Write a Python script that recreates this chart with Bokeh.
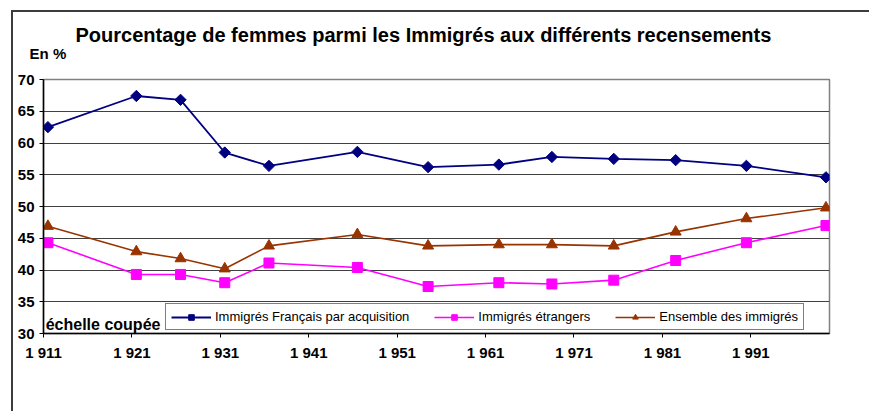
import numpy as np
from bokeh.plotting import figure
from bokeh.models import Legend, LegendItem, Label, FixedTicker, Range1d, LinearAxis
from bokeh.embed import file_html
from bokeh.resources import INLINE

# ---- data ----
years = [1911, 1921, 1926, 1931, 1936, 1946, 1954, 1962, 1968, 1975, 1982, 1990, 1999]
francais = [62.5, 67.4, 66.8, 58.5, 56.4, 58.6, 56.2, 56.6, 57.8, 57.5, 57.3, 56.4, 54.6]
etrangers = [44.3, 39.3, 39.3, 38.0, 41.1, 40.4, 37.4, 38.0, 37.8, 38.4, 41.5, 44.3, 47.0]
ensemble = [46.9, 42.9, 41.8, 40.2, 43.8, 45.6, 43.8, 44.0, 44.0, 43.8, 46.0, 48.1, 49.8]
x_tick_pos = [1910.5, 1920.5, 1930.5, 1940.5, 1950.5, 1960.5, 1970.5, 1980.5, 1990.5]
x_tick_labels = ["1 911", "1 921", "1 931", "1 941", "1 951", "1 961", "1 971", "1 981", "1 991"]
y_ticks = [30, 35, 40, 45, 50, 55, 60, 65, 70]
series_names = ["Immigrés Français par acquisition", "Immigrés étrangers", "Ensemble des immigrés"]

FONT = "Liberation Sans"

p = figure(x_range=Range1d(1910.5, 1999.4), y_range=Range1d(30, 70),
           output_backend="svg", toolbar_location=None,
           min_border_left=30, min_border_right=40,
           min_border_top=67, min_border_bottom=78)
p.frame_width = 786
p.frame_height = 254
p.styles = {"margin-left": "11px", "margin-top": "10px",
            "border-left": "2px solid #3c3c3c", "border-top": "2px solid #3c3c3c"}

p.title.text = "Pourcentage de femmes parmi les Immigrés aux différents recensements"
p.title.text_font = FONT
p.title.text_font_style = "bold"
p.title.text_font_size = "20px"
p.title.text_color = "black"
p.title.align = "left"
p.title.offset = 32
p.title.standoff = -8

p.outline_line_color = "#808080"
p.outline_line_width = 1.5

# axes
p.xaxis.ticker = FixedTicker(ticks=x_tick_pos)
p.xaxis.major_label_overrides = {t: l for t, l in zip(x_tick_pos, x_tick_labels)}
p.yaxis.ticker = FixedTicker(ticks=y_ticks)
for ax in (p.xaxis, p.yaxis):
    ax.major_tick_in = 0
    ax.major_tick_out = 4
    ax.minor_tick_line_color = None
    ax.axis_line_color = "black"
    ax.axis_line_width = 1.5
    ax.major_tick_line_color = "black"
    ax.major_label_text_font = FONT
    ax.major_label_text_font_style = "bold"
    ax.major_label_text_font_size = "15px"
    ax.major_label_text_color = "black"
p.xaxis.major_label_standoff = 6
p.yaxis.major_label_standoff = 5

# unit caption above the value axis ("En %")
unit_axis = LinearAxis(ticker=FixedTicker(ticks=[1911]),
                       major_label_overrides={1911: "En %"},
                       axis_line_color=None, major_tick_line_color=None,
                       minor_tick_line_color=None, major_tick_out=0, major_tick_in=0,
                       major_label_standoff=18,
                       major_label_text_font=FONT, major_label_text_font_style="bold",
                       major_label_text_font_size="15px", major_label_text_color="black")
p.add_layout(unit_axis, "above")

p.xgrid.visible = False
p.ygrid.grid_line_color = "#404040"
p.ygrid.grid_line_width = 1

# series
r1 = p.line(years, francais, color="#000080", line_width=1.8)
m1 = p.scatter(years, francais, marker="square", angle=np.pi / 4, size=8,
               fill_color="#000080", line_color="#000080")
r2 = p.line(years, etrangers, color="#FF00FF", line_width=1.6)
m2 = p.scatter(years, etrangers, marker="square", size=10,
               fill_color="#FF00FF", line_color="#FF00FF")
r3 = p.line(years, ensemble, color="#993300", line_width=1.6)
m3 = p.scatter(years, ensemble, marker="triangle", size=11,
               fill_color="#993300", line_color="#993300")

legend = Legend(items=[LegendItem(label=series_names[0], renderers=[r1, m1]),
                       LegendItem(label=series_names[1], renderers=[r2, m2]),
                       LegendItem(label=series_names[2], renderers=[r3, m3])],
                orientation="horizontal", location=(122, 3), margin=0,
                border_line_color="black", border_line_width=1,
                background_fill_color="white", background_fill_alpha=1,
                glyph_width=40, glyph_height=14, label_height=14,
                label_standoff=4, spacing=25, padding=5,
                label_text_font=FONT, label_text_font_size="13px",
                label_text_color="black")
p.add_layout(legend)

p.add_layout(Label(x=1910.75, y=31.37, text="échelle coupée", text_align="left",
                   text_baseline="alphabetic",
                   text_font=FONT, text_font_style="bold", text_font_size="16px",
                   text_color="black"))

open("out.html", "w").write(file_html(p, INLINE))
